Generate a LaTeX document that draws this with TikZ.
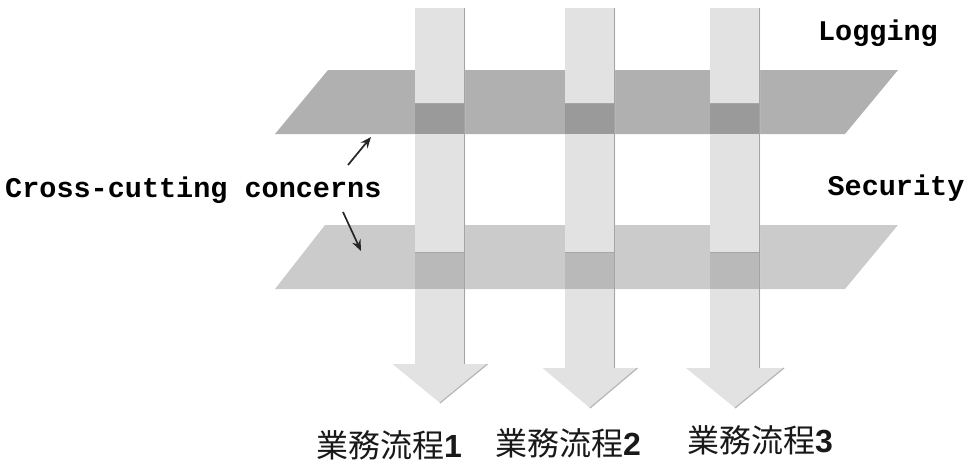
\documentclass[tikz,border=0pt]{standalone}
\usepackage{fontspec}
\newfontfamily\monob{Liberation Mono}[BoldFont={Liberation Mono Bold}]
\newfontfamily\cjk{Noto Sans CJK JP}
\newfontfamily\digitf{Liberation Sans Bold}
\usetikzlibrary{arrows.meta}
\definecolor{planeA}{HTML}{B0B0B0}
\definecolor{planeB}{HTML}{CBCBCB}
\definecolor{colfill}{HTML}{E2E2E2}
\definecolor{bandA}{HTML}{9A9A9A}
\definecolor{bandB}{HTML}{B9B9B9}
\definecolor{edgecol}{HTML}{A4A4A4}
\tikzset{
  mono/.style={font=\monob\bfseries\fontsize{28.5}{30}\selectfont, inner sep=0pt},
  cjklabel/.style={font=\fontsize{32}{34}\selectfont, inner sep=0pt, text=black!90},
  pointer/.style={-{Stealth[length=11pt,width=9pt]}, line width=1.7pt, black!85},
}
\newcommand{\procarrow}[5]{% #1 left x, #2 right x, #3 head top y, #4 tip y, #5 head half width
  \pgfmathsetmacro{\cx}{(#1+#2)/2}
  \fill[colfill] (#1,8) -- (#2,8) -- (#2,#3) -- (\cx+#5,#3) -- (\cx,#4) -- (\cx-#5,#3) -- (#1,#3) -- cycle;
  \fill[bandA] (#1,103) rectangle (#2,134);
  \fill[bandB] (#1,252) rectangle (#2,289);
  \draw[edgecol, line width=1.2pt] (#2-0.6,8) -- (#2-0.6,#3);
  \draw[edgecol!80, line width=1.2pt] (\cx+#5,#3) -- (\cx,#4);
  \draw[black!35, line width=0.8pt] (#1,103.4) -- (#2,103.4);
  \draw[black!35, line width=0.8pt] (#1,252.4) -- (#2,252.4);
}
\begin{document}
\begin{tikzpicture}[x=1pt,y=-1pt]
\useasboundingbox (0,0) rectangle (972,472);
% planes
\fill[planeA] (275,134) -- (328,70) -- (898,70) -- (845,134) -- cycle;
\fill[planeB] (275,289) -- (325,225) -- (898,225) -- (845,289) -- cycle;
% process arrows
\procarrow{415}{465}{364}{403}{47.5}
\procarrow{565}{615}{368}{408}{47.5}
\procarrow{710}{760}{368}{408}{49}
% labels
\node[mono, anchor=center] (logging) at (878,33) {Logging};
\node[mono, anchor=center] (security) at (896,188) {Security};
\node[mono, anchor=west] (cross) at (5,190) {Cross-cutting concerns};
\coordinate (p1s) at (348,165);
\coordinate (p1e) at (371,137);
\coordinate (p2s) at (343,212);
\coordinate (p2e) at (361,251);
\draw[pointer] (p1s) -- (p1e);
\draw[pointer] (p2s) -- (p2e);
\node[cjklabel] (bp1) at (389,445) {\cjk 業務流程\digitf 1};
\node[cjklabel] (bp2) at (568,443) {\cjk 業務流程\digitf 2};
\node[cjklabel] (bp3) at (760,440) {\cjk 業務流程\digitf 3};
\end{tikzpicture}
\end{document}
